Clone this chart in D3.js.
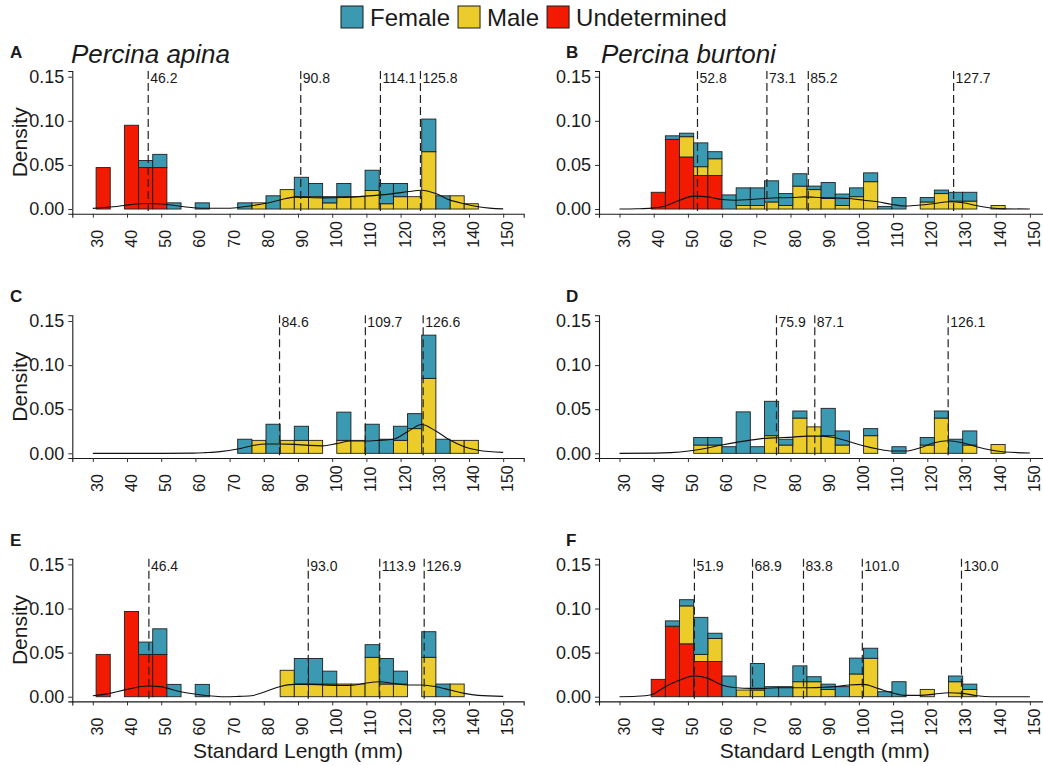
<!DOCTYPE html>
<html>
<head>
<meta charset="utf-8">
<script src="https://cdn.jsdelivr.net/npm/d3@7"></script>
<style>
  body { margin: 0; background: #fff; }
  svg { display: block; }
  text { font-family: "Liberation Sans", Arial, sans-serif; fill: #1a1a1a; }
</style>
</head>
<body>
<svg id="chart" width="1043" height="766"></svg>
<script>
// ---- data ----
const sexes = ["Female", "Male", "Undetermined"];
const sexColors = ["#3B9AB2", "#EBCC2A", "#F21A00"];
const species = ["Percina apina", "Percina burtoni"];
const panelLetters = ["A", "B", "C", "D", "E", "F"];
const xTicks = [30, 40, 50, 60, 70, 80, 90, 100, 110, 120, 130, 140, 150];
const yTicks = [0, 0.05, 0.10, 0.15];

// histogram bins (standard length, mm)
const binWidth = 4.14;
const apinaBinStart = 30.96;   // first bin edge, P. apina panels
const burtoniBinStart = 39.27; // first bin edge, P. burtoni panels

// panel A
const aUndet  = [0.047,0,0.095,0.047,0.047,0,0,0,0,0,0,0,0,0,0,0,0,0,0,0,0,0,0,0,0,0,0];
const aMale   = [0,0,0,0,0,0,0,0,0,0,0,0.007,0,0.022,0.014,0.014,0.007,0.014,0.014,0.021,0.006,0.014,0.014,0.065,0,0.015,0.006];
const aFemale = [0,0,0,0.008,0.015,0.007,0,0.007,0,0,0.007,0,0.015,0,0.022,0.015,0.007,0.015,0,0.023,0.023,0.015,0,0.037,0.015,0,0];
// panel B
const bUndet  = [0.019,0.079,0.059,0.038,0.038,0,0,0,0,0,0,0,0,0,0,0,0,0,0,0,0,0,0,0,0];
const bMale   = [0,0,0.023,0.010,0.019,0,0.004,0.004,0.008,0.004,0.026,0.022,0.012,0.004,0.014,0.031,0,0,0,0.008,0.0175,0.009,0.009,0,0.004];
const bFemale = [0,0.004,0.004,0.027,0.008,0.016,0.020,0.020,0.024,0.0135,0.014,0.004,0.018,0.013,0.010,0.010,0.003,0.013,0,0.005,0.004,0.010,0.010,0,0];
// panel C
const cUndet  = [0,0,0,0,0,0,0,0,0,0,0,0,0,0,0,0,0,0,0,0,0,0,0,0,0,0,0];
const cMale   = [0,0,0,0,0,0,0,0,0,0,0,0.0147,0,0.0147,0.0147,0.0147,0,0.0147,0.0147,0,0,0.0147,0.028,0.085,0,0.0147,0.0147];
const cFemale = [0,0,0,0,0,0,0,0,0,0,0.016,0,0.033,0,0.016,0,0,0.032,0,0.033,0.016,0.016,0.017,0.049,0.016,0,0];
// panel D
const dUndet  = [0,0,0,0,0,0,0,0,0,0,0,0,0,0,0,0,0,0,0,0,0,0,0,0,0];
const dMale   = [0,0,0,0.0094,0.0094,0,0,0,0.020,0.0094,0.040,0.030,0.020,0.0094,0,0.020,0,0,0,0.0094,0.040,0,0.0094,0,0.010];
const dFemale = [0,0,0,0.0086,0.0086,0.0075,0.047,0.0075,0.039,0.0066,0.008,0,0.031,0.016,0,0.008,0,0.0075,0,0.0086,0.008,0.016,0.016,0,0];
// panel E
const eUndet  = [0.048,0,0.0966,0.048,0.048,0,0,0,0,0,0,0,0,0,0,0,0,0,0,0,0,0,0,0,0,0,0];
const eMale   = [0,0,0,0,0,0,0,0,0,0,0,0,0,0.030,0.0144,0.0144,0.0144,0.0144,0.0144,0.0447,0.0144,0.0144,0,0.0447,0,0.0144,0];
const eFemale = [0,0,0,0.014,0.029,0.014,0,0.014,0,0,0,0,0,0,0.029,0.029,0.0146,0,0,0.0143,0.029,0.0146,0,0.029,0.0144,0,0];
// panel F
const fUndet  = [0.0197,0.080,0.060,0.040,0.040,0,0,0,0,0,0,0,0,0,0,0,0,0,0,0,0,0,0];
const fMale   = [0,0,0.043,0.008,0.026,0,0.0076,0.0076,0,0,0.017,0.017,0.0083,0,0.0258,0.0436,0,0,0,0.0083,0,0.017,0.0083];
const fFemale = [0,0.006,0.007,0.042,0.006,0.0235,0,0.030,0.0114,0.0114,0.018,0.0057,0.006,0.0114,0.018,0.0114,0.0057,0.017,0,0,0,0.0065,0.006];

// fitted density curves [length, density]
const aCurve = [[30,0.0007],[36,0.0025],[41,0.005],[46,0.0063],[51,0.0055],[55,0.0035],[59.4,0.0015],[64,0.0008],[69,0.0008],[72,0.0015],[76,0.0035],[80.6,0.0065],[85,0.0105],[89,0.0135],[97.4,0.0127],[103,0.013],[109.6,0.0146],[117.9,0.0175],[122,0.0195],[126.2,0.0213],[130.3,0.0175],[134.5,0.0101],[138.6,0.006],[142.7,0.0026],[146,0.001],[150,0.0002]];
const bCurve = [[30,0],[35,0.0003],[39.3,0.001],[43.4,0.0034],[47.6,0.010],[51.7,0.0146],[55.9,0.0138],[59.9,0.0108],[64.1,0.010],[68.2,0.0108],[72.4,0.0119],[76.5,0.0127],[80.7,0.013],[84,0.0138],[88.9,0.013],[97.2,0.0119],[101.5,0.01],[105.5,0.0082],[109.7,0.0052],[113.8,0.0034],[118,0.0045],[122.1,0.0063],[126.3,0.0082],[130.4,0.0071],[134.6,0.0037],[138.7,0.0011],[142.9,0.0002],[150,0]];
const cCurve = [[30,0],[50,0],[59.5,0.0002],[63,0.0008],[67.2,0.0019],[72.4,0.0049],[76.5,0.0086],[80.7,0.0105],[84.8,0.0105],[89,0.0101],[93.1,0.009],[97.2,0.0085],[101.3,0.011],[105.5,0.0139],[109.6,0.0139],[113.7,0.0147],[117.9,0.016],[122,0.0244],[126.2,0.0327],[130.3,0.0252],[134.4,0.015],[138.6,0.0075],[142.7,0.0034],[150,0.0011]];
const dCurve = [[30,0],[40.4,0.0002],[45,0.0008],[50.2,0.0026],[55,0.0055],[59.9,0.0094],[64.1,0.0124],[68.2,0.015],[72.4,0.017],[76.5,0.0177],[80.7,0.0184],[84.8,0.0195],[88.9,0.0195],[93.1,0.0177],[97.2,0.0132],[101.3,0.0086],[105.5,0.0049],[109.6,0.0026],[113.7,0.0026],[117.9,0.0064],[122,0.012],[126.1,0.0143],[130.3,0.012],[134.4,0.0075],[138.6,0.0038],[142.7,0.0015],[150,0.0004]];
const eCurve = [[30,0.0011],[35,0.0038],[40,0.0083],[46.2,0.0121],[49.6,0.0114],[55.7,0.0057],[59.8,0.003],[64,0.0011],[68,0],[72,0.0003],[76.3,0.0011],[80.4,0.0057],[84.6,0.0114],[88.9,0.014],[93.1,0.014],[101.4,0.0129],[105.5,0.0129],[109.6,0.0152],[113.8,0.017],[117.9,0.0152],[122,0.0133],[126.2,0.0133],[130.3,0.0114],[134.5,0.0076],[138.6,0.0038],[142.7,0.0015],[150,0.0004]];
const fCurve = [[30,0],[35,0.0005],[39.3,0.0023],[43.4,0.0114],[47.6,0.0189],[51.7,0.0235],[55.9,0.0208],[59.9,0.0133],[64.1,0.0102],[68.2,0.0095],[72.4,0.0095],[76.5,0.0102],[80.7,0.0102],[84.8,0.0102],[88.9,0.0106],[93,0.0114],[97.2,0.0133],[101.3,0.014],[105.5,0.0095],[109.7,0.0045],[113.8,0.0015],[118,0.0015],[122.1,0.003],[126.3,0.0045],[130.4,0.0038],[134.6,0.0011],[138.7,0],[150,0]];

// component means (dashed lines)
const aCuts = [46.2, 90.8, 114.1, 125.8];
const bCuts = [52.8, 73.1, 85.2, 127.7];
const cCuts = [84.6, 109.7, 126.6];
const dCuts = [75.9, 87.1, 126.1];
const eCuts = [46.4, 93.0, 113.9, 126.9];
const fCuts = [51.9, 68.9, 83.8, 101.0, 130.0];

const panels = [
  { start: apinaBinStart,   u: aUndet, m: aMale, f: aFemale, curve: aCurve, cuts: aCuts },
  { start: burtoniBinStart, u: bUndet, m: bMale, f: bFemale, curve: bCurve, cuts: bCuts },
  { start: apinaBinStart,   u: cUndet, m: cMale, f: cFemale, curve: cCurve, cuts: cCuts },
  { start: burtoniBinStart, u: dUndet, m: dMale, f: dFemale, curve: dCurve, cuts: dCuts },
  { start: apinaBinStart,   u: eUndet, m: eMale, f: eFemale, curve: eCurve, cuts: eCuts },
  { start: burtoniBinStart, u: fUndet, m: fMale, f: fFemale, curve: fCurve, cuts: fCuts }
];

// ---- layout ----
const svg = d3.select("#chart");
const colLeft = [72.3, 599];
const rowTop = [71, 315.3, 558.7];
const panelW = 451.4, panelH = 142.7;
const color = d3.scaleOrdinal().domain(sexes).range(sexColors);

// legend
const legend = svg.append("g");
let lx = 341;
sexes.forEach(s => {
  legend.append("rect").attr("x", lx).attr("y", 6).attr("width", 22).attr("height", 22)
    .attr("fill", color(s)).attr("stroke", "#1a1a1a").attr("stroke-width", 1);
  const t = legend.append("text").attr("x", lx + 29).attr("y", 25.5)
    .style("font-size", "24px").text(s);
  lx += 29 + t.node().getComputedTextLength() + 8;
});

panels.forEach((p, i) => {
  const col = i % 2, row = Math.floor(i / 2);
  const left = colLeft[col], top = rowTop[row];
  const g = svg.append("g");

  const x = d3.scaleLinear().domain([24, 156]).range([left, left + panelW]);
  const y = d3.scaleLinear().domain([-0.0053, 0.1565]).range([top + panelH, top]);

  // stacked bars
  const rows = p.f.map((_, k) => ({
    x0: p.start + k * binWidth,
    Undetermined: p.u[k], Male: p.m[k], Female: p.f[k]
  }));
  const stacked = d3.stack().keys(["Undetermined", "Male", "Female"])(rows);
  stacked.forEach(layer => {
    g.append("g").selectAll("rect")
      .data(layer.filter(d => d[1] - d[0] > 0))
      .join("rect")
      .attr("x", d => x(d.data.x0))
      .attr("width", x(binWidth) - x(0))
      .attr("y", d => y(d[1]))
      .attr("height", d => y(d[0]) - y(d[1]))
      .attr("fill", color(layer.key))
      .attr("stroke", "#1f1f1f")
      .attr("stroke-width", 0.9);
  });

  // density curve
  g.append("path")
    .datum(p.curve)
    .attr("fill", "none")
    .attr("stroke", "#111")
    .attr("stroke-width", 1.1)
    .attr("d", d3.line().x(d => x(d[0])).y(d => y(d[1])).curve(d3.curveMonotoneX));

  // dashed cut lines + labels
  p.cuts.forEach(c => {
    g.append("line")
      .attr("x1", x(c)).attr("x2", x(c))
      .attr("y1", top).attr("y2", top + panelH)
      .attr("stroke", "#222").attr("stroke-width", 1.2)
      .attr("stroke-dasharray", "8,4");
    g.append("text")
      .attr("x", x(c) + 2).attr("y", top + 12)
      .style("font-size", "14px")
      .text(c.toFixed(1));
  });

  // axes
  const xAxis = g.append("g").attr("transform", `translate(0,${top + panelH})`)
    .call(d3.axisBottom(x).tickValues(xTicks).tickSize(4).tickPadding(0).tickFormat(d3.format("d")));
  xAxis.select(".domain").attr("stroke", "#1a1a1a").attr("stroke-width", 1.1);
  xAxis.selectAll(".tick line").attr("stroke", "#333").attr("stroke-width", 1);
  xAxis.selectAll(".tick text")
    .attr("transform", "rotate(-90)")
    .attr("x", -34).attr("y", 9.5).attr("dy", 0)
    .attr("text-anchor", "start")
    .style("font-size", "16px").style("font-family", "'Liberation Sans', Arial, sans-serif")
    .attr("fill", "#1a1a1a");

  const yAxis = g.append("g").attr("transform", `translate(${left},0)`)
    .call(d3.axisLeft(y).tickValues(yTicks).tickSize(4).tickPadding(4).tickFormat(d3.format(".2f")));
  yAxis.select(".domain").attr("stroke", "#1a1a1a").attr("stroke-width", 1.1);
  yAxis.selectAll(".tick line").attr("stroke", "#333").attr("stroke-width", 1);
  yAxis.selectAll(".tick text")
    .style("font-size", "18px").style("font-family", "'Liberation Sans', Arial, sans-serif")
    .attr("fill", "#1a1a1a");

  // titles
  if (col === 0) {
    svg.append("text")
      .attr("transform", `translate(${left - 45},${top + panelH / 2}) rotate(-90)`)
      .attr("text-anchor", "middle")
      .style("font-size", "21px")
      .text("Density");
  }
  if (row === 2) {
    svg.append("text")
      .attr("x", left + panelW / 2).attr("y", 758)
      .attr("text-anchor", "middle")
      .style("font-size", "21px")
      .text("Standard Length (mm)");
  }
  if (row === 0) {
    svg.append("text")
      .attr("x", col === 0 ? 71 : 601).attr("y", 63)
      .style("font-size", "26px").style("font-style", "italic")
      .text(species[col]);
  }
  svg.append("text")
    .attr("x", col === 0 ? 10 : 566).attr("y", top - 13)
    .style("font-size", "17px").style("font-weight", "bold")
    .text(panelLetters[i]);
});
</script>
</body>
</html>
